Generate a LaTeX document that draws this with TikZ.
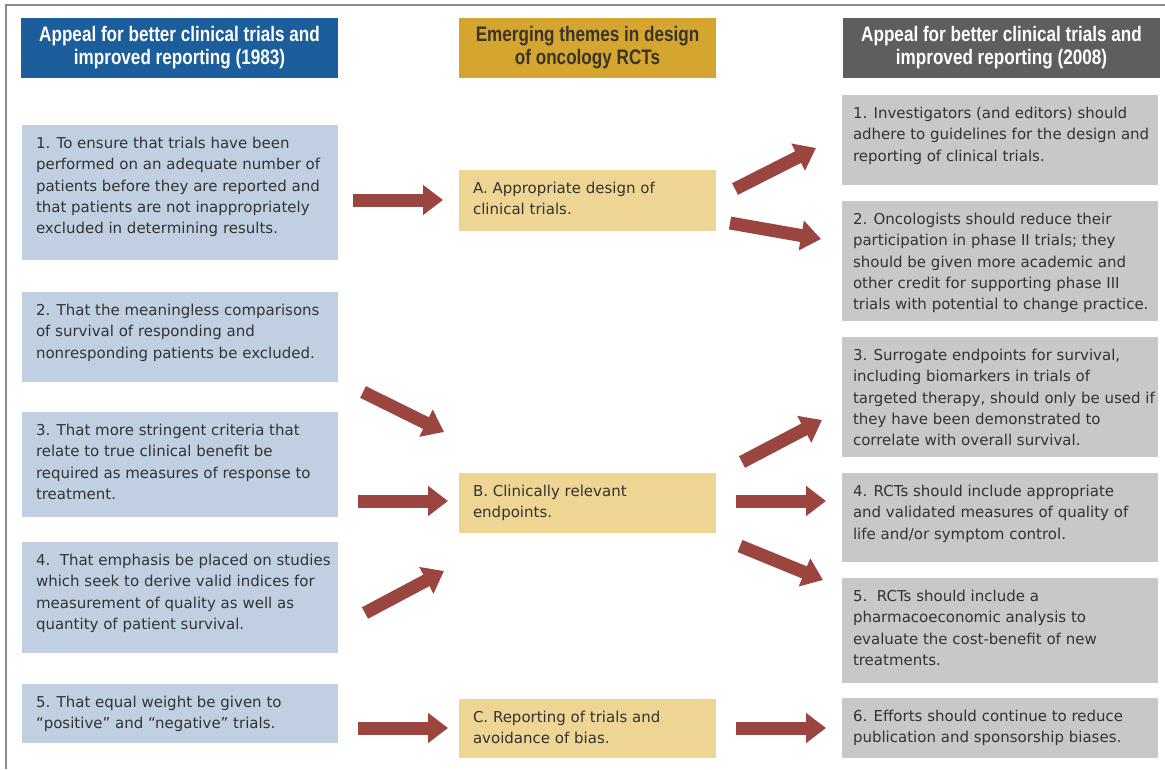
\documentclass[tikz,border=0pt]{standalone}
\usepackage{fontspec}
\setmainfont{DejaVu Sans}
\newfontfamily\headfont[FakeStretch=0.815]{Liberation Sans}
\usetikzlibrary{arrows.meta,calc}
\definecolor{hblue}{HTML}{1B5E9B}
\definecolor{hyel}{HTML}{D4A630}
\definecolor{hgray}{HTML}{5E5E5E}
\definecolor{lblue}{HTML}{C0D0E2}
\definecolor{lyel}{HTML}{EED594}
\definecolor{lgray}{HTML}{C8C8C8}
\definecolor{arrc}{HTML}{9B4541}
\definecolor{txt}{HTML}{333333}
\definecolor{framec}{HTML}{8C8C8C}
\definecolor{htxt}{HTML}{3A3428}
\newcommand\bt[3]{\parbox[c][#2pt][t]{#1pt}{\noindent\makebox[#1pt][l]{\parbox[t]{500pt}{\raggedright #3}}}}
\tikzset{
  base/.style={anchor=north west, inner xsep=14pt, inner ysep=12pt, outer sep=0pt,
    font=\fontsize{15}{21.3}\selectfont, text=txt},
  lbox/.style={base, fill=lblue},
  mbox/.style={base, fill=lyel},
  rbox/.style={base, fill=lgray, inner xsep=11pt},
  head/.style={anchor=north west, inner sep=0pt, outer sep=0pt, minimum height=60pt,
    align=center, font=\headfont\bfseries\fontsize{21}{23}\selectfont},
  arr/.style={draw=arrc, line width=13pt, line cap=butt,
    -{Triangle[width=29pt,length=20pt]}}
}
\begin{document}
\begin{tikzpicture}[x=1pt,y=-1pt]
\useasboundingbox (0,0) rectangle (1165,769);
\fill[white] (0,0) rectangle (1165,769);
\draw[framec, line width=2pt] (6,769) -- (6,5) -- (1165,5);

% headers
\node[head, fill=hblue, text=white, minimum width=317pt] (H1) at (21,18)
  {Appeal for better clinical trials and\\improved reporting (1983)};
\node[head, fill=hyel, text=htxt, minimum width=257pt] (H2) at (459,18)
  {Emerging themes in design\\of oncology RCTs};
\node[head, fill=hgray, text=white, minimum width=317pt] (H3) at (843,18)
  {Appeal for better clinical trials and\\improved reporting (2008)};

% left column
\node[lbox] (L1) at (22,125) {\bt{288}{111}{1. To ensure that trials have been\\performed on an adequate number of\\patients before they are reported and\\that patients are not inappropriately\\excluded in determining results.}};
\node[lbox] (L2) at (22,292) {\bt{288}{66}{2. That the meaningless comparisons\\of survival of responding and\\nonresponding patients be excluded.}};
\node[lbox] (L3) at (22,412) {\bt{288}{81}{3. That more stringent criteria that\\relate to true clinical benefit be\\required as measures of response to\\treatment.}};
\node[lbox] (L4) at (22,542) {\bt{288}{87}{4.\ \ That emphasis be placed on studies\\which seek to derive valid indices for\\measurement of quality as well as\\quantity of patient survival.}};
\node[lbox] (L5) at (22,684) {\bt{288}{35}{5. That equal weight be given to\\“positive” and “negative” trials.}};

% middle column
\node[mbox] (A) at (459,170) {\bt{229}{37}{A. Appropriate design of\\clinical trials.}};
\node[mbox] (B) at (459,473) {\bt{229}{36}{B. Clinically relevant\\endpoints.}};
\node[mbox] (C) at (459,699) {\bt{229}{35}{C. Reporting of trials and\\avoidance of bias.}};

% right column
\node[rbox] (R1) at (842,95) {\bt{294}{66}{1. Investigators (and editors) should\\adhere to guidelines for the design and\\reporting of clinical trials.}};
\node[rbox] (R2) at (842,201) {\bt{294}{96}{2. Oncologists should reduce their\\participation in phase II trials; they\\should be given more academic and\\other credit for supporting phase III\\trials with potential to change practice.}};
\node[rbox] (R3) at (842,337) {\bt{294}{96}{3. Surrogate endpoints for survival,\\including biomarkers in trials of\\targeted therapy, should only be used if\\they have been demonstrated to\\correlate with overall survival.}};
\node[rbox] (R4) at (842,473) {\bt{294}{65}{4. RCTs should include appropriate\\and validated measures of quality of\\life and/or symptom control.}};
\node[rbox] (R5) at (842,578) {\bt{294}{81}{5.\ \ RCTs should include a\\pharmacoeconomic analysis to\\evaluate the cost-benefit of new\\treatments.}};
\node[rbox] (R6) at (842,698) {\bt{294}{36}{6. Efforts should continue to reduce\\publication and sponsorship biases.}};

% arrow end points
\coordinate (a1s) at (353,200); \coordinate (a1e) at (443,200);
\coordinate (a2s) at (363,392); \coordinate (a2e) at (444,432);
\coordinate (a3s) at (358,501); \coordinate (a3e) at (448,501);
\coordinate (a4s) at (365,613); \coordinate (a4e) at (444,571);
\coordinate (a5s) at (358,728); \coordinate (a5e) at (448,728);
\coordinate (b1s) at (735,189); \coordinate (b1e) at (816,148);
\coordinate (b2s) at (730,223); \coordinate (b2e) at (821,239);
\coordinate (b3s) at (742,462); \coordinate (b3e) at (822,420);
\coordinate (b4s) at (736,501); \coordinate (b4e) at (826,501);
\coordinate (b5s) at (740,546); \coordinate (b5e) at (823,580);
\coordinate (b6s) at (736,728); \coordinate (b6e) at (826,728);

\foreach \n in {a1,a2,a3,a4,a5,b1,b2,b3,b4,b5,b6}
  \draw[arr] (\n s) -- (\n e);
\end{tikzpicture}
\end{document}
